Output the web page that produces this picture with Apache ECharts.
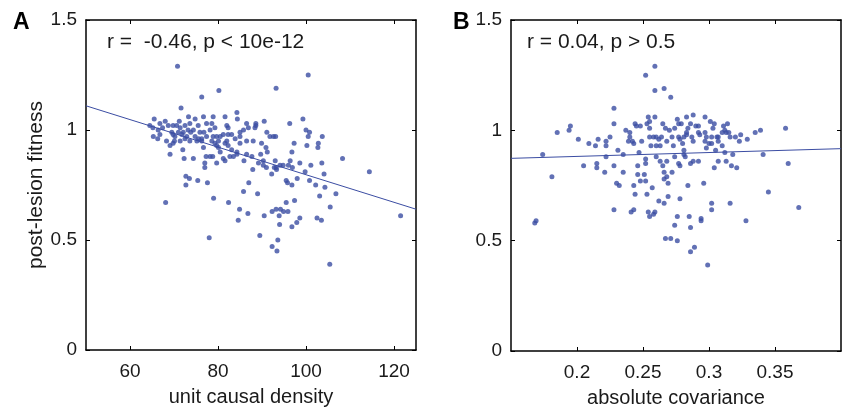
<!DOCTYPE html>
<html>
<head>
<meta charset="utf-8">
<script src="https://cdn.jsdelivr.net/npm/echarts@6/dist/echarts.min.js"></script>
<style>
html,body{margin:0;padding:0;background:#fff;}
#chart{width:843px;height:413px;}
</style>
</head>
<body>
<div id="chart"></div>
<script>
// ---- Data ----
const xTicksA = [60, 80, 100, 120];
const xTicksB = [0.2, 0.25, 0.3, 0.35];
const yTicks = [0, 0.5, 1, 1.5];

const statA = 'r =  -0.46, p < 10e-12';
const statB = 'r = 0.04, p > 0.5';

// panel A: [unit causal density, post-lesion fitness]
const scatterA = [
[70.8,1.29],[80.2,1.18],[76.3,1.15],[71.6,1.10],[65.5,1.05],[64.5,1.02],[66.8,1.03],[68.0,1.04],[65.2,1.01],[66.4,1.00],[67.4,1.01],[68.7,1.02],[69.8,1.02],[70.6,1.02],[71.2,1.04],[71.4,1.01],[72.5,1.02],[73.3,1.06],[73.6,1.03],[74.8,1.05],[75.5,1.02],[76.7,1.06],[77.4,1.03],[78.9,1.06],[79.3,1.01],[81.6,1.06],[82.0,1.02],[84.3,1.08],[84.4,1.05],[86.5,1.03],[86.9,1.01],
[66.3,0.96],[68.3,0.95],[69.5,0.99],[70.2,0.97],[69.1,0.93],[71.4,0.95],[71.8,0.98],[72.5,0.96],[72.9,0.97],[73.6,0.95],[74.8,0.97],[75.2,0.95],[75.9,0.99],[76.3,0.95],[76.7,0.92],[77.4,0.97],[78.2,1.00],[78.6,0.95],[79.3,0.94],[79.7,0.97],[80.1,0.95],[81.2,0.98],[82.0,0.95],[83.1,0.98],[83.9,0.96],[85.0,0.97],[85.8,1.00],[86.5,0.95],
[69.1,0.89],[72.3,0.87],[74.4,0.87],[77.0,0.85],[77.0,0.83],[78.2,0.88],[79.7,0.85],[81.6,0.86],[83.5,0.88],[84.3,0.89],[85.9,0.86],[86.5,0.89],
[72.7,0.79],[73.5,0.78],[72.7,0.75],[75.4,0.77],[77.6,0.76],[87.0,0.76],[68.1,0.67],[79.0,0.69],[82.4,0.67],[85.8,0.72],[84.9,0.64],[86.8,0.62],[84.6,0.59],[78.0,0.51],
[100.5,1.25],[93.2,1.19],[99.3,1.05],[96.3,1.03],[90.5,1.04],[88.6,1.02],[88.4,1.01],[91.1,0.99],[91.8,0.97],[92.6,0.97],[93.1,0.97],[100.0,1.00],[100.5,0.97],[100.2,0.93],[103.7,0.97],[102.8,0.94],[102.7,0.92],[97.3,0.94],[96.8,0.90],[88.0,0.95],[89.9,0.94],[90.9,0.92],[91.2,0.90],[89.7,0.89],[93.0,0.86],[94.1,0.84],[93.2,0.83],[94.8,0.84],[96.0,0.84],[96.4,0.86],[96.9,0.83],[98.6,0.85],[101.1,0.84],[103.6,0.85],[108.3,0.87],[114.4,0.81],[104.1,0.80],[99.8,0.81],[87.9,0.82],[92.2,0.80],[93.3,0.82],
[89.0,0.71],[95.5,0.77],[95.8,0.76],[96.8,0.75],[98.0,0.78],[100.8,0.77],[102.2,0.75],[104.3,0.74],[103.1,0.70],[106.8,0.71],[95.5,0.67],[97.4,0.68],[105.5,0.65],[90.5,0.61],[92.3,0.63],[93.2,0.64],[94.2,0.64],[94.9,0.63],[95.9,0.63],[93.9,0.61],[98.6,0.60],[102.5,0.60],[103.5,0.59],[97.9,0.58],[94.0,0.57],[96.8,0.56],[121.5,0.61],[89.5,0.52],[93.6,0.50],[92.3,0.47],[93.4,0.45],[105.4,0.39],
[87.7,0.88],[89.2,0.85],[90.3,0.86],[90.3,0.84],[91.0,0.83],[92.8,0.83],[88.6,1.03],[85.0,0.99],[85.0,0.94],[78.6,1.03],[82.3,1.01],[65.3,0.97],[66.8,0.98],[69.8,0.98],[70.1,0.95],[69.8,0.94],[71.0,0.99],[72.1,0.99],[72.0,0.91],[73.2,1.00],[73.8,0.99],[74.4,1.00],[75.6,0.96],[76.3,0.96],[76.8,0.99],[78.9,0.97],[80.5,0.97],[79.7,0.93],[80.1,0.92],[80.5,0.90],[82.3,0.98],[81.6,0.94],[82.3,0.93],[83.1,0.91],[84.3,0.90],[77.3,0.88],[78.8,0.88],[81.2,0.87],[82.7,0.88],[100.8,0.99]
];

// panel B: [absolute covariance, post-lesion fitness]
const scatterB = [
[0.259,1.29],[0.252,1.25],[0.259,1.18],[0.266,1.19],[0.271,1.15],[0.228,1.10],[0.228,1.03],[0.195,1.02],[0.194,1.00],[0.185,0.99],[0.201,0.96],[0.209,0.94],[0.214,0.93],[0.216,0.96],[0.222,0.93],[0.222,0.95],[0.225,0.97],[0.231,0.91],[0.235,0.89],[0.237,1.00],[0.240,0.99],[0.239,0.95],[0.243,0.94],[0.244,1.03],[0.245,1.02],[0.248,1.02],[0.249,0.95],[0.254,1.06],[0.253,1.03],[0.255,1.01],[0.255,0.97],[0.258,0.97],[0.259,1.06],[0.260,0.93],[0.262,0.96],[0.264,0.97],[0.265,1.03],[0.267,1.01],[0.268,0.95],[0.270,1.00],[0.272,0.97],[0.273,0.93],
[0.174,0.89],[0.222,0.88],[0.247,0.90],[0.252,0.87],[0.252,0.85],[0.260,0.88],[0.263,0.86],[0.265,0.84],[0.268,0.86],[0.205,0.84],[0.215,0.85],[0.215,0.83],[0.228,0.84],[0.221,0.81],[0.235,0.81],[0.246,0.84],[0.246,0.80],[0.251,0.80],[0.181,0.79],[0.266,0.81],
[0.248,0.77],[0.252,0.77],[0.272,0.81],[0.268,0.79],[0.266,0.78],[0.269,0.76],[0.230,0.76],[0.232,0.75],[0.243,0.75],[0.257,0.74],[0.244,0.71],[0.253,0.71],[0.269,0.70],[0.262,0.68],[0.266,0.67],[0.228,0.64],[0.241,0.63],[0.243,0.64],[0.254,0.63],[0.259,0.63],[0.258,0.62],[0.255,0.61],[0.168,0.58],[0.169,0.59],[0.274,0.57],[0.267,0.51],[0.271,0.51],
[0.276,1.05],[0.277,1.03],[0.279,1.03],[0.283,1.06],[0.286,1.03],[0.288,1.07],[0.290,1.02],[0.292,1.02],[0.297,1.06],[0.301,1.04],[0.304,1.03],[0.303,1.01],[0.311,1.02],[0.314,1.03],[0.312,1.00],[0.310,0.99],[0.313,0.99],[0.315,0.99],[0.320,0.97],[0.324,0.98],[0.329,0.96],[0.335,0.99],[0.339,1.00],[0.358,1.01],
[0.274,1.01],[0.277,0.97],[0.281,0.97],[0.283,0.98],[0.287,0.97],[0.292,0.99],[0.293,0.98],[0.297,0.99],[0.298,0.97],[0.302,0.97],[0.306,0.97],[0.307,0.97],[0.316,0.97],[0.323,0.95],[0.280,0.94],[0.288,0.95],[0.300,0.94],[0.302,0.94],[0.307,0.95],[0.310,0.93],[0.298,0.92],[0.305,0.91],[0.312,0.90],[0.318,0.89],[0.341,0.89],
[0.274,0.88],[0.281,0.89],[0.282,0.88],[0.288,0.86],[0.292,0.86],[0.307,0.86],[0.313,0.86],[0.277,0.85],[0.278,0.84],[0.286,0.85],[0.304,0.83],[0.317,0.84],[0.321,0.83],[0.360,0.85],
[0.284,0.75],[0.296,0.76],[0.345,0.72],[0.278,0.69],[0.302,0.67],[0.316,0.67],[0.302,0.64],[0.368,0.65],[0.276,0.61],[0.285,0.61],[0.294,0.60],[0.294,0.59],[0.328,0.59],[0.286,0.56],[0.276,0.50],[0.289,0.47],[0.286,0.45],[0.299,0.39],
[0.240,0.97],[0.242,0.95],[0.255,1.04],[0.256,0.93],[0.260,0.97],[0.263,0.93],[0.284,1.01],[0.283,0.99],[0.278,0.96],[0.281,0.91],[0.297,0.95]
];

// least-squares fit lines (endpoints at axis limits)
const fitLineA = [[50, 1.11], [125, 0.64]];
const fitLineB = [[0.15, 0.873], [0.4, 0.917]];

// ---- Styling ----
const FONT = '"Liberation Sans", Arial, Helvetica, sans-serif';
const TXT = '#1a1a1a';
const DOT = '#3b4da3';

function xAxes(gi, min, max, ticks, name) {
  return [
    {
      type: 'value', gridIndex: gi, position: 'bottom', min: min, max: max,
      name: name, nameLocation: 'middle', nameGap: 37,
      nameTextStyle: { fontFamily: FONT, fontSize: 20, color: TXT },
      axisLine: { show: true, onZero: false, lineStyle: { color: '#000', width: 1.5 } },
      axisTick: { show: true, inside: true, length: 4, customValues: ticks, lineStyle: { color: '#000', width: 1 } },
      axisLabel: { show: true, customValues: ticks, margin: 12, fontFamily: FONT, fontSize: 19, color: TXT,
        formatter: function (v) { return String(+v.toFixed(2)); } },
      splitLine: { show: false }
    },
    {
      type: 'value', gridIndex: gi, position: 'top', min: min, max: max,
      axisLine: { show: true, onZero: false, lineStyle: { color: '#000', width: 1.5 } },
      axisTick: { show: true, inside: true, length: 4, customValues: ticks, lineStyle: { color: '#000', width: 1 } },
      axisLabel: { show: false }, splitLine: { show: false }
    }
  ];
}
function yAxes(gi, name) {
  return [
    {
      type: 'value', gridIndex: gi, position: 'left', min: 0, max: 1.5, interval: 0.5,
      name: name, nameLocation: 'middle', nameGap: 36,
      nameTextStyle: { fontFamily: FONT, fontSize: 21, color: TXT },
      axisLine: { show: true, onZero: false, lineStyle: { color: '#000', width: 1.5 } },
      axisTick: { show: true, inside: true, length: 4, customValues: yTicks, lineStyle: { color: '#000', width: 1 } },
      axisLabel: { show: true, customValues: yTicks, margin: 9, fontFamily: FONT, fontSize: 19, color: TXT,
        formatter: function (v) { return String(+v.toFixed(2)); } },
      splitLine: { show: false }
    },
    {
      type: 'value', gridIndex: gi, position: 'right', min: 0, max: 1.5, interval: 0.5,
      axisLine: { show: true, onZero: false, lineStyle: { color: '#000', width: 1.5 } },
      axisTick: { show: true, inside: true, length: 4, customValues: yTicks, lineStyle: { color: '#000', width: 1 } },
      axisLabel: { show: false }, splitLine: { show: false }
    }
  ];
}

const chart = echarts.init(document.getElementById('chart'), null, { renderer: 'canvas' });
chart.setOption({
  animation: false,
  backgroundColor: '#fff',
  grid: [
    { left: 86, top: 20, width: 330, height: 330 },
    { left: 511, top: 20, width: 330, height: 331 }
  ],
  xAxis: [].concat(xAxes(0, 50, 125, xTicksA, 'unit causal density'), xAxes(1, 0.15, 0.4, xTicksB, 'absolute covariance')),
  yAxis: [].concat(yAxes(0, 'post-lesion fitness'), yAxes(1, '')),
  graphic: [
    { type: 'text', left: 13, top: 11, style: { text: 'A', fontFamily: FONT, fontSize: 23, fontWeight: 'bold', fill: '#000' } },
    { type: 'text', left: 453, top: 11, style: { text: 'B', fontFamily: FONT, fontSize: 23, fontWeight: 'bold', fill: '#000' } },
    { type: 'text', left: 107, top: 32, style: { text: statA, fontFamily: FONT, fontSize: 21, fill: TXT } },
    { type: 'text', left: 527, top: 32, style: { text: statB, fontFamily: FONT, fontSize: 21, fill: TXT } }
  ],
  series: [
    { type: 'scatter', xAxisIndex: 0, yAxisIndex: 0, data: scatterA, symbol: 'circle', symbolSize: 5,
      itemStyle: { color: DOT }, silent: true },
    { type: 'line', xAxisIndex: 0, yAxisIndex: 0, data: fitLineA, symbol: 'none',
      lineStyle: { color: DOT, width: 1 }, silent: true },
    { type: 'scatter', xAxisIndex: 2, yAxisIndex: 2, data: scatterB, symbol: 'circle', symbolSize: 5,
      itemStyle: { color: DOT }, silent: true },
    { type: 'line', xAxisIndex: 2, yAxisIndex: 2, data: fitLineB, symbol: 'none',
      lineStyle: { color: DOT, width: 1 }, silent: true }
  ]
});
</script>
</body>
</html>
